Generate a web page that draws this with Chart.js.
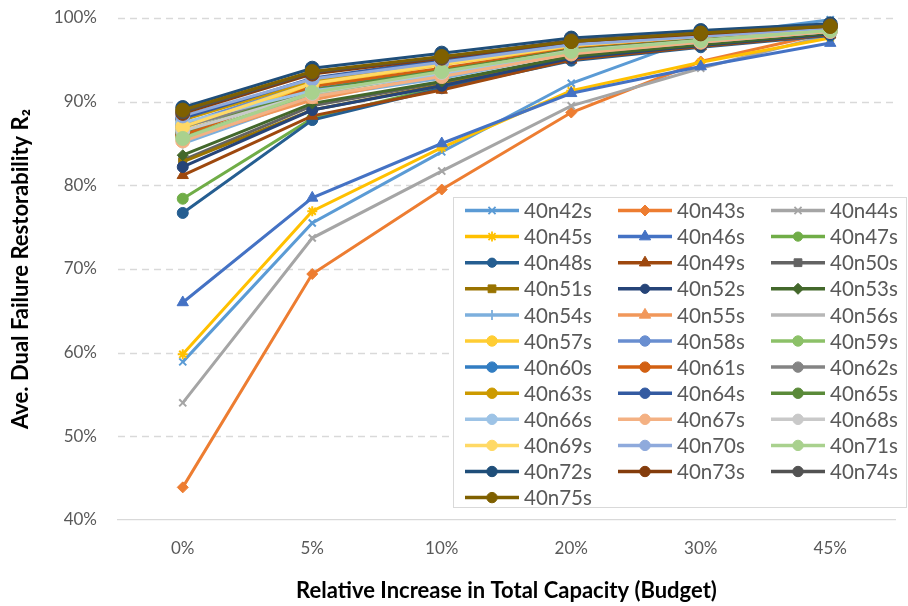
<!DOCTYPE html>
<html><head><meta charset="utf-8">
<script src="https://cdn.jsdelivr.net/npm/chart.js@4.4.0/dist/chart.umd.min.js"></script>
<style>html,body{margin:0;padding:0;background:#fff}#wrap{width:908px;height:606px;position:relative}</style>
</head><body><div id="wrap"><canvas id="c" width="908" height="606"></canvas></div>
<script>
const categories = ['0%','5%','10%','20%','30%','45%'];
const yTicks = [40,50,60,70,80,90,100];
const seriesNames = ['40n42s','40n43s','40n44s','40n45s','40n46s','40n47s','40n48s','40n49s','40n50s','40n51s','40n52s','40n53s','40n54s','40n55s','40n56s','40n57s','40n58s','40n59s','40n60s','40n61s','40n62s','40n63s','40n64s','40n65s','40n66s','40n67s','40n68s','40n69s','40n70s','40n71s','40n72s','40n73s','40n74s','40n75s'];

const s40n42s = [58.9, 75.5, 84.0, 92.2, 97.8, 99.8];
const s40n43s = [43.9, 69.4, 79.5, 88.7, 94.8, 98.3];
const s40n44s = [54.0, 73.7, 81.7, 89.5, 94.0, 98.0];
const s40n45s = [59.8, 76.9, 84.5, 91.3, 94.7, 97.6];
const s40n46s = [66.0, 78.5, 85.0, 91.0, 94.2, 97.0];
const s40n47s = [78.4, 88.0, 91.8, 95.0, 96.6, 98.0];
const s40n48s = [76.7, 87.8, 91.6, 94.9, 96.5, 97.9];
const s40n49s = [81.2, 88.3, 91.4, 95.0, 96.6, 98.0];
const s40n50s = [83.0, 89.5, 92.3, 95.4, 96.9, 98.2];
const s40n51s = [82.8, 89.0, 92.0, 95.3, 96.8, 98.1];
const s40n52s = [82.2, 89.0, 91.9, 95.2, 96.7, 98.1];
const s40n53s = [83.6, 89.8, 92.4, 95.4, 96.8, 98.2];
const s40n54s = [85.0, 90.5, 92.8, 95.8, 97.1, 98.4];
const s40n55s = [85.5, 90.2, 93.3, 96.0, 97.3, 98.5];
const s40n56s = [85.2, 90.8, 93.6, 96.0, 97.3, 98.5];
const s40n57s = [86.8, 92.0, 94.4, 96.6, 97.7, 98.7];
const s40n58s = [87.3, 92.3, 94.6, 96.8, 97.8, 98.8];
const s40n59s = [85.8, 91.0, 93.4, 96.0, 97.3, 98.5];
const s40n60s = [86.2, 91.5, 93.8, 96.2, 97.4, 98.6];
const s40n61s = [86.0, 91.8, 94.0, 96.3, 97.5, 98.6];
const s40n62s = [87.0, 91.2, 93.5, 96.1, 97.4, 98.5];
const s40n63s = [87.8, 92.5, 94.8, 96.9, 97.9, 98.8];
const s40n64s = [88.0, 92.8, 95.0, 97.0, 98.0, 98.9];
const s40n65s = [86.4, 91.4, 93.7, 96.2, 97.4, 98.6];
const s40n66s = [87.5, 91.3, 93.2, 95.9, 97.2, 98.4];
const s40n67s = [85.3, 90.6, 93.0, 95.7, 97.1, 98.4];
const s40n68s = [86.5, 91.0, 93.5, 96.1, 97.3, 98.5];
const s40n69s = [87.0, 92.2, 94.5, 96.7, 97.8, 98.7];
const s40n70s = [88.3, 92.7, 94.7, 96.8, 97.8, 98.8];
const s40n71s = [85.6, 91.1, 93.6, 96.0, 97.3, 98.5];
const s40n72s = [89.3, 94.0, 95.8, 97.6, 98.5, 99.3];
const s40n73s = [88.6, 93.3, 95.2, 97.2, 98.1, 99.0];
const s40n74s = [88.8, 93.5, 95.3, 97.3, 98.2, 99.1];
const s40n75s = [89.0, 93.6, 95.4, 97.2, 98.2, 99.0];

const seriesValues = [s40n42s,s40n43s,s40n44s,s40n45s,s40n46s,s40n47s,s40n48s,s40n49s,s40n50s,s40n51s,s40n52s,s40n53s,s40n54s,s40n55s,s40n56s,s40n57s,s40n58s,s40n59s,s40n60s,s40n61s,s40n62s,s40n63s,s40n64s,s40n65s,s40n66s,s40n67s,s40n68s,s40n69s,s40n70s,s40n71s,s40n72s,s40n73s,s40n74s,s40n75s];

const seriesColors = ['#5B9BD5','#ED7D31','#A5A5A5','#FFC000','#4472C4','#70AD47','#255E91','#9E480E','#636363','#997300','#264478','#43682B','#7CAFDD','#F1975A','#B7B7B7','#FFCD33','#698ED0','#8CC168','#327DC2','#D26012','#848484','#CC9A00','#335AA1','#5A8A39','#9DC3E6','#F4B183','#C9C9C9','#FFD966','#8FAADC','#A9D18E','#1F4E79','#843C0C','#525252','#7F6000'];
const seriesMarkers = ['crossRot','rectRot','crossRot','star','triangle','circle','circle','triangle','rect','rect','circle','rectRot','cross','triangle',false,'circle','circle','circle','circle','circle','circle','circle','circle','circle','circle','circle','circle','circle','circle','circle','circle','circle','circle','circle'];
const markerRadius = {crossRot:5, rectRot:5.5, star:5, triangle:6.5, circle:5.5, rect:5.5, cross:5};

const N = seriesNames.length;
const datasets = seriesNames.map((name,i)=>{
  const m = seriesMarkers[i];
  const stroked = (m==='crossRot'||m==='star'||m==='cross');
  let r = m ? markerRadius[m] : 0;
  if (m==='circle' && i>=15) r = 7;
  return {
    label: name,
    data: seriesValues[i],
    borderColor: seriesColors[i],
    backgroundColor: seriesColors[i],
    borderWidth: 3,
    pointStyle: m || 'circle',
    pointRadius: r,
    pointHoverRadius: r,
    pointBorderWidth: stroked ? 2 : 1,
    pointBackgroundColor: seriesColors[i],
    pointBorderColor: seriesColors[i],
    tension: 0,
    clip: false,
    order: N - i
  };
});

const FONT = 'Lato, "Open Sans", sans-serif';
Chart.defaults.font.family = FONT;

const gridPlugin = {
  id: 'dashGrid',
  beforeDatasetsDraw(chart){
    const ctx = chart.ctx, ys = chart.scales.y, a = chart.chartArea;
    ctx.save();
    ctx.strokeStyle = '#D9D9D9';
    ctx.lineWidth = 1.3;
    ctx.setLineDash([7,5]);
    yTicks.forEach(v=>{
      if (v === 40) return;
      const y = Math.round(ys.getPixelForValue(v)) + 0.5;
      ctx.beginPath(); ctx.moveTo(a.left, y); ctx.lineTo(a.right, y); ctx.stroke();
    });
    ctx.restore();
  }
};

const legendPlugin = {
  id: 'boxLegend',
  afterDraw(chart){
    const ctx = chart.ctx;
    const x0 = 453, y0 = 197, x1 = 907, y1 = 508;
    ctx.save();
    ctx.fillStyle = '#fff';
    ctx.fillRect(x0, y0, x1-x0, y1-y0);
    ctx.strokeStyle = '#D9D9D9';
    ctx.lineWidth = 1;
    ctx.strokeRect(x0+0.5, y0+0.5, x1-x0-1, y1-y0-1);
    chart.data.datasets.forEach((ds,i)=>{
      const col = i % 3, row = Math.floor(i/3);
      const lx = 465 + col*153, cy = 210.5 + row*26.1;
      ctx.strokeStyle = ds.borderColor;
      ctx.lineWidth = 3.5;
      ctx.beginPath(); ctx.moveTo(lx, cy); ctx.lineTo(lx+54, cy); ctx.stroke();
      const m = seriesMarkers[i];
      if (m) {
        ctx.fillStyle = ds.borderColor;
        ctx.strokeStyle = ds.borderColor;
        let r = markerRadius[m];
        if (m==='circle') r = i>=15 ? 5.2 : 4.6;
        const bw = (m==='crossRot'||m==='star'||m==='cross') ? 1.8 : 1;
        ctx.lineWidth = bw;
        if (Chart.helpers && Chart.helpers.drawPoint) {
          Chart.helpers.drawPoint(ctx, {pointStyle:m, radius:r, borderWidth:bw, rotation:0}, lx+27, cy);
        }
      }
      ctx.fillStyle = '#595959';
      ctx.font = '20.5px ' + FONT;
      ctx.textBaseline = 'middle';
      ctx.textAlign = 'left';
      ctx.fillText(ds.label, lx+59, cy+1);
    });
    ctx.restore();
  }
};

new Chart(document.getElementById('c'), {
  type: 'line',
  data: { labels: categories, datasets },
  options: {
    responsive: false,
    animation: false,
    devicePixelRatio: 1,
    layout: { autoPadding: false, padding: { top: 18, right: 13, left: 0, bottom: 0 } },
    plugins: { legend: { display: false }, tooltip: { enabled: false } },
    scales: {
      x: {
        offset: true,
        grid: { display: false, drawTicks: false },
        border: { display: true, color: '#D9D9D9', width: 1.3 },
        ticks: { color: '#595959', font: { size: 17 }, padding: 18 },
        title: { display: true, text: 'Relative Increase in Total Capacity (Budget)', color: '#000', font: { size: 22, weight: 'bold' }, padding: { top: 0, bottom: 2 } },
        afterFit: s => { s.height = 86; s.paddingLeft = 0; s.paddingRight = 0; }
      },
      y: {
        min: 40, max: 100,
        afterBuildTicks: s => { s.ticks = yTicks.map(v => ({ value: v })); },
        grid: { display: false, drawTicks: false },
        border: { display: false },
        ticks: { color: '#595959', font: { size: 17 }, padding: 21, callback: v => v + '%' },
        title: { display: true, text: 'Ave. Dual Failure Restorability R\u2082', color: '#000', font: { size: 22, weight: 'bold' }, padding: { top: 8, bottom: 0 } },
        afterFit: s => { s.width = 118; s.paddingTop = 0; s.paddingBottom = 0; }
      }
    }
  },
  plugins: [gridPlugin, legendPlugin]
});
</script></body></html>
